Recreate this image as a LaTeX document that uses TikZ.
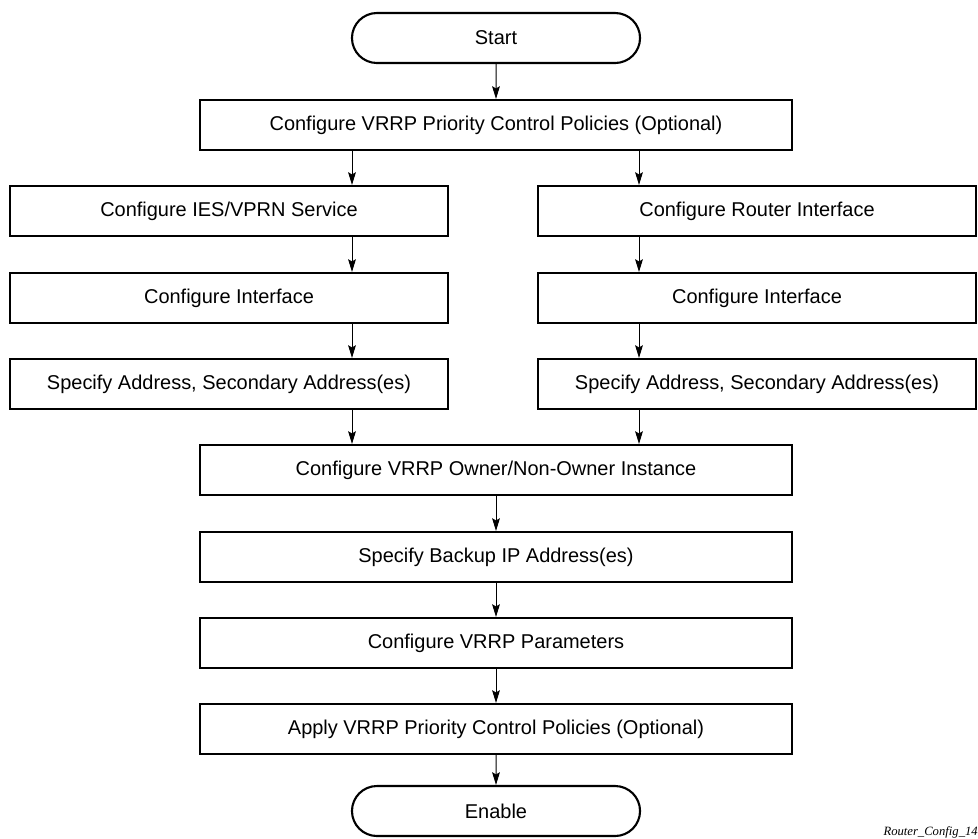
\documentclass[tikz,border=0pt]{standalone}
\usepackage{fontspec}
\setmainfont{Liberation Sans}
\newfontfamily\notefont{Liberation Serif}
\usetikzlibrary{shapes.misc,arrows.meta,positioning}

\begin{document}
\begin{tikzpicture}[
  x=0.025cm, y=-0.025cm,
  font=\fontsize{14.2}{17}\selectfont,
  box/.style={draw, line width=1.5pt, minimum height=1.25cm, inner sep=0pt},
  wide/.style={box, minimum width=14.8cm},
  half/.style={box, minimum width=10.95cm},
  term/.style={draw, line width=1.5pt, rounded rectangle, minimum width=7.2cm, minimum height=1.25cm, inner sep=0pt},
  flow/.style={-{Stealth[length=9pt,width=5.5pt,inset=1.5pt]}, line width=0.7pt}
]
\useasboundingbox (0,0) rectangle (978,838);

% x positions of the side arrows
\coordinate (lx) at (352,0);
\coordinate (rx) at (639,0);

% main column
\node[term] (start) at (496,38) {Start};
\node[wide] (prio) at (496,125) {Configure VRRP Priority Control Policies (Optional)};

% left branch
\node[half] (ies) at (229,211) {Configure IES/VPRN Service};
\node[half] (lif) at (229,298) {Configure Interface};
\node[half] (ladr) at (229,384) {Specify Address, Secondary Address(es)};

% right branch
\node[half] (rtr) at (757,211) {Configure Router Interface};
\node[half] (rif) at (757,298) {Configure Interface};
\node[half] (radr) at (757,384) {Specify Address, Secondary Address(es)};

% joined column
\node[wide] (own) at (496,470) {Configure VRRP Owner/Non-Owner Instance};
\node[wide] (bkp) at (496,557) {Specify Backup IP Address(es)};
\node[wide] (par) at (496,643) {Configure VRRP Parameters};
\node[wide] (apl) at (496,729) {Apply VRRP Priority Control Policies (Optional)};
\node[term] (enab) at (496,811) {Enable};

\node[anchor=base east, font=\notefont\itshape\fontsize{9}{11}\selectfont, inner sep=0pt]
  (tag) at (978,835) {Router\_Config\_14};

% connectors
\draw[flow] (start) -- (prio);
\draw[flow] (prio.south -| lx) -- (ies.north -| lx);
\draw[flow] (prio.south -| rx) -- (rtr.north -| rx);
\draw[flow] (ies.south -| lx) -- (lif.north -| lx);
\draw[flow] (lif.south -| lx) -- (ladr.north -| lx);
\draw[flow] (rtr.south -| rx) -- (rif.north -| rx);
\draw[flow] (rif.south -| rx) -- (radr.north -| rx);
\draw[flow] (ladr.south -| lx) -- (own.north -| lx);
\draw[flow] (radr.south -| rx) -- (own.north -| rx);
\draw[flow] (own) -- (bkp);
\draw[flow] (bkp) -- (par);
\draw[flow] (par) -- (apl);
\draw[flow] (apl) -- (enab);

\end{tikzpicture}
\end{document}
